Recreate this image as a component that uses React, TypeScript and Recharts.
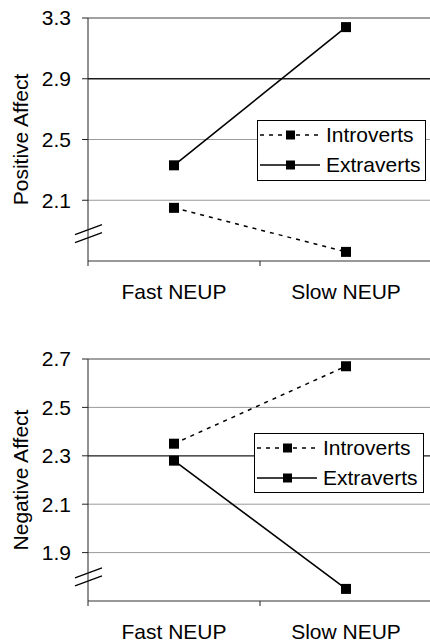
import React from "react";
import { LineChart, Line, XAxis, YAxis, ReferenceLine } from "recharts";

// categories and values
const categories = ["Fast NEUP", "Slow NEUP"];
const seriesNames = ["Introverts", "Extraverts"];

const positiveIntroverts = [2.05, 1.76];
const positiveExtraverts = [2.33, 3.24];
const negativeIntroverts = [2.35, 2.67];
const negativeExtraverts = [2.28, 1.75];

const positiveTicks = [2.1, 2.5, 2.9, 3.3];
const negativeTicks = [1.9, 2.1, 2.3, 2.5, 2.7];
const positiveDomain = [1.7, 3.3];
const negativeDomain = [1.7, 2.7];
const positiveBreak = 1.88;
const negativeBreak = 1.8;

const FONT = '"Liberation Sans", Arial, Helvetica, sans-serif';
const CHART_W = 432;
const AXIS_W = 88;
const HALF_BAND = (CHART_W - AXIS_W) / categories.length / 2;
const DASH = "4 5";

const buildRows = (intro: number[], extra: number[]) =>
  categories.map((name, i) => ({ name, Introverts: intro[i], Extraverts: extra[i] }));

const SquareDot = (props: any) => {
  const { cx, cy, index, dataKey } = props;
  if (cx == null || cy == null) return <g key={`${dataKey}-${index}`} />;
  return <rect key={`${dataKey}-${index}`} x={cx - 5} y={cy - 5} width={10} height={10} fill="#000" />;
};

const CategoryTick = (props: any) => {
  const { x, y, payload, index } = props;
  return (
    <g>
      <line x1={x - HALF_BAND} y1={y} x2={x - HALF_BAND} y2={y + 5} stroke="#222" />
      {index === categories.length - 1 && (
        <line x1={x + HALF_BAND} y1={y} x2={x + HALF_BAND} y2={y + 5} stroke="#222" />
      )}
      <text
        x={x}
        y={y + 30}
        textAnchor="middle"
        dominantBaseline="central"
        fontSize={21}
        fill="#000"
        fontFamily={FONT}
      >
        {payload.value}
      </text>
    </g>
  );
};

const BreakMark = (props: any) => {
  const { x1, y1 } = props;
  return (
    <g>
      <line x1={x1 - 13} y1={y1 + 1} x2={x1 + 14} y2={y1 - 9} stroke="#000" strokeWidth={1.3} />
      <line x1={x1 - 13} y1={y1 + 9} x2={x1 + 14} y2={y1 - 1} stroke="#000" strokeWidth={1.3} />
    </g>
  );
};

const axisTitle = (text: string) => (props: any) => {
  const { viewBox } = props;
  const cy = viewBox.y + viewBox.height / 2;
  return (
    <text
      x={20}
      y={cy}
      transform={`rotate(-90, 20, ${cy})`}
      textAnchor="middle"
      dominantBaseline="central"
      fontSize={21}
      fill="#000"
      fontFamily={FONT}
    >
      {text}
    </text>
  );
};

function LegendBox({ left, top, width, height }: { left: number; top: number; width: number; height: number }) {
  return (
    <div
      style={{
        position: "absolute",
        left,
        top,
        width,
        height,
        boxSizing: "border-box",
        border: "1px solid #000",
        background: "#fff",
        fontFamily: FONT,
        fontSize: 21,
        color: "#000",
      }}
    >
      {seriesNames.map((name, i) => (
        <div
          key={name}
          style={{ display: "flex", alignItems: "center", height: 30, marginTop: i === 0 ? -1 : 0 }}
        >
          <svg width={62} height={20} style={{ marginLeft: 2, marginRight: 4 }}>
            <line
              x1={0}
              y1={10}
              x2={60}
              y2={10}
              stroke="#000"
              strokeWidth={1.6}
              strokeDasharray={name === "Introverts" ? DASH : undefined}
            />
            <rect x={26} y={5.5} width={9} height={9} fill="#000" />
          </svg>
          <span style={{ lineHeight: "30px" }}>{name}</span>
        </div>
      ))}
    </div>
  );
}

function Panel({
  rows,
  ticks,
  domain,
  breakAt,
  title,
  height,
  top,
  bottom,
  darkLine,
  legend,
}: {
  rows: any[];
  ticks: number[];
  domain: number[];
  breakAt: number;
  title: string;
  height: number;
  top: number;
  bottom: number;
  darkLine: number;
  legend: { left: number; top: number; width: number; height: number };
}) {
  const topTick = ticks[ticks.length - 1];
  return (
    <div style={{ position: "relative", width: CHART_W, height }}>
      <LineChart width={CHART_W} height={height} data={rows} margin={{ top, right: 0, bottom: 0, left: 0 }}>
        <XAxis
          dataKey="name"
          scale="band"
          height={bottom}
          interval={0}
          axisLine={{ stroke: "#333" }}
          tickLine={false}
          tickSize={0}
          tickMargin={0}
          tick={<CategoryTick />}
        />
        <YAxis
          type="number"
          width={AXIS_W}
          domain={domain}
          ticks={ticks}
          allowDataOverflow
          axisLine={{ stroke: "#222" }}
          tickLine={{ stroke: "#222" }}
          tickSize={6}
          tickMargin={11}
          tick={{ fontSize: 21, fill: "#000", fontFamily: FONT }}
          label={axisTitle(title)}
        />
        {ticks.map((t) => (
          <ReferenceLine
            key={t}
            y={t}
            stroke={t === darkLine ? "#1a1a1a" : t === topTick ? "#444" : "#9a9a9a"}
            strokeWidth={t === darkLine ? 1.3 : 1}
          />
        ))}
        <ReferenceLine y={breakAt} shape={<BreakMark />} />
        <Line
          dataKey="Introverts"
          stroke="#000"
          strokeWidth={1.5}
          strokeDasharray={DASH}
          dot={SquareDot}
          activeDot={false}
          isAnimationActive={false}
        />
        <Line
          dataKey="Extraverts"
          stroke="#000"
          strokeWidth={1.6}
          dot={SquareDot}
          activeDot={false}
          isAnimationActive={false}
        />
      </LineChart>
      <LegendBox {...legend} />
    </div>
  );
}

export default function App() {
  return (
    <div
      style={{
        position: "absolute",
        left: 0,
        top: 0,
        width: 430,
        height: 642,
        overflow: "hidden",
        background: "#fff",
        fontFamily: FONT,
      }}
    >
      <Panel
        rows={buildRows(positiveIntroverts, positiveExtraverts)}
        ticks={positiveTicks}
        domain={positiveDomain}
        breakAt={positiveBreak}
        title="Positive Affect"
        height={320}
        top={18}
        bottom={59}
        darkLine={2.9}
        legend={{ left: 257, top: 120, width: 169, height: 61 }}
      />
      <Panel
        rows={buildRows(negativeIntroverts, negativeExtraverts)}
        ticks={negativeTicks}
        domain={negativeDomain}
        breakAt={negativeBreak}
        title="Negative Affect"
        height={322}
        top={39}
        bottom={41}
        darkLine={2.3}
        legend={{ left: 254, top: 113, width: 170, height: 60 }}
      />
    </div>
  );
}
